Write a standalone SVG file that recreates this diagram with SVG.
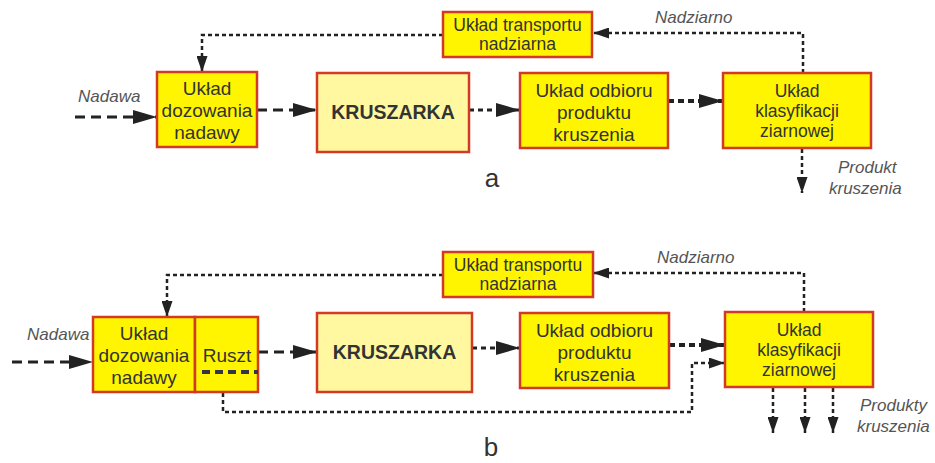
<svg xmlns="http://www.w3.org/2000/svg" width="935" height="463" viewBox="0 0 935 463">
<defs>
<style>
.box{fill:#FFF500;stroke:#D33A26;stroke-width:2.5}
.kr{fill:#FFF8A0;stroke:#D33A26;stroke-width:2.5}
.t{font-family:"Liberation Sans",Arial,sans-serif;font-size:19px;fill:#333;text-anchor:middle}
.ts{font-family:"Liberation Sans",Arial,sans-serif;font-size:17.5px;fill:#333;text-anchor:middle}
.tb{font-family:"Liberation Sans",Arial,sans-serif;font-size:19.5px;font-weight:bold;fill:#333;text-anchor:middle}
.lbl{font-family:"Liberation Sans",Arial,sans-serif;font-size:17px;font-style:italic;fill:#555}
.big{font-family:"Liberation Sans",Arial,sans-serif;font-size:26px;fill:#333;text-anchor:middle}
.c{fill:none;stroke:#222}
.long{stroke-width:3;stroke-dasharray:10 6}
.dot{stroke-width:2.5;stroke-dasharray:4 3}
.med{stroke-width:3;stroke-dasharray:5 4}
.thick{stroke-width:4;stroke-dasharray:6 4}
</style>
<marker id="ab" viewBox="0 0 24 14" refX="24" refY="7" markerWidth="24" markerHeight="14" markerUnits="userSpaceOnUse" orient="auto"><path d="M0,0 L24,7 L0,14 z" fill="#222"/></marker>
<marker id="as" viewBox="0 0 16 11" refX="16" refY="5.5" markerWidth="16" markerHeight="11" markerUnits="userSpaceOnUse" orient="auto"><path d="M0,0 L16,5.5 L0,11 z" fill="#222"/></marker>
</defs>
<rect width="935" height="463" fill="#fff"/>

<g id="connectors">
<!-- a -->
<path class="c dot" d="M803,73 V33 H593" marker-end="url(#as)"/>
<path class="c dot" d="M443,35 H202 V72" marker-end="url(#as)"/>
<path class="c long" d="M75,117 H157" marker-end="url(#ab)"/>
<path class="c long" d="M257,110 H317" marker-end="url(#ab)"/>
<path class="c med" d="M469,110 H520" marker-end="url(#ab)"/>
<path class="c thick" d="M668,101 H723" marker-end="url(#ab)"/>
<path class="c dot" d="M802,149 V193" marker-end="url(#as)"/>
<!-- b -->
<path class="c dot" d="M804,312 V273 H593" marker-end="url(#as)"/>
<path class="c dot" d="M443,275 H167 V317" marker-end="url(#as)"/>
<path class="c long" d="M12,362 H93" marker-end="url(#ab)"/>
<path class="c long" d="M258,352 H317" marker-end="url(#ab)"/>
<path class="c med" d="M472,348 H520" marker-end="url(#ab)"/>
<path class="c thick" d="M669,345 H725" marker-end="url(#ab)"/>
<path class="c dot" d="M223,393 V412 H692 V363 H725" marker-end="url(#as)"/>
<path class="c dot" d="M773,388 V433" marker-end="url(#as)"/>
<path class="c dot" d="M805,388 V433" marker-end="url(#as)"/>
<path class="c dot" d="M833,388 V433" marker-end="url(#as)"/>
</g>

<g id="a-transport">
<rect class="box" x="443" y="12" width="149" height="45"/>
<text class="ts" x="517.5" y="31">Układ transportu</text>
<text class="ts" x="517.5" y="50">nadziarna</text>
</g>
<g id="a-dozowanie">
<rect class="box" x="157" y="72" width="100" height="75"/>
<text class="t" x="207" y="95">Układ</text>
<text class="t" x="207" y="117">dozowania</text>
<text class="t" x="207" y="139">nadawy</text>
</g>
<g id="a-kruszarka">
<rect class="kr" x="317" y="73" width="152" height="79"/>
<text class="tb" x="393" y="119">KRUSZARKA</text>
</g>
<g id="a-odbior">
<rect class="box" x="520" y="73" width="148" height="75"/>
<text class="t" x="594" y="97">Układ odbioru</text>
<text class="t" x="594" y="119">produktu</text>
<text class="t" x="594" y="141">kruszenia</text>
</g>
<g id="a-klasyfikacja">
<rect class="box" x="723" y="73" width="148" height="75"/>
<text class="ts" x="797" y="97">Układ</text>
<text class="ts" x="797" y="117">klasyfikacji</text>
<text class="ts" x="797" y="137">ziarnowej</text>
</g>
<g id="a-labels">
<text class="lbl" x="78" y="102">Nadawa</text>
<text class="lbl" x="655" y="23">Nadziarno</text>
<text class="lbl" x="838" y="173">Produkt</text>
<text class="lbl" x="829" y="194">kruszenia</text>
<text class="big" x="492" y="187">a</text>
</g>

<g id="b-transport">
<rect class="box" x="443" y="252" width="150" height="45"/>
<text class="ts" x="518" y="271">Układ transportu</text>
<text class="ts" x="518" y="290">nadziarna</text>
</g>
<g id="b-dozowanie">
<rect class="box" x="93" y="317" width="102" height="75"/>
<text class="t" x="144" y="340">Układ</text>
<text class="t" x="144" y="362">dozowania</text>
<text class="t" x="144" y="384">nadawy</text>
</g>
<g id="b-ruszt">
<rect class="box" x="195" y="317" width="63" height="75"/>
<text class="t" x="227" y="362">Ruszt</text>
<line x1="202" y1="372" x2="258" y2="372" stroke="#33334a" stroke-width="4" stroke-dasharray="8 5"/>
</g>
<g id="b-kruszarka">
<rect class="kr" x="317" y="313" width="155" height="79"/>
<text class="tb" x="394.5" y="359">KRUSZARKA</text>
</g>
<g id="b-odbior">
<rect class="box" x="520" y="313" width="149" height="75"/>
<text class="t" x="594.5" y="337">Układ odbioru</text>
<text class="t" x="594.5" y="359">produktu</text>
<text class="t" x="594.5" y="381">kruszenia</text>
</g>
<g id="b-klasyfikacja">
<rect class="box" x="725" y="312" width="148" height="75"/>
<text class="ts" x="799" y="336">Układ</text>
<text class="ts" x="799" y="356">klasyfikacji</text>
<text class="ts" x="799" y="376">ziarnowej</text>
</g>
<g id="b-labels">
<text class="lbl" x="27" y="340">Nadawa</text>
<text class="lbl" x="657" y="263">Nadziarno</text>
<text class="lbl" x="860" y="411">Produkty</text>
<text class="lbl" x="857" y="432">kruszenia</text>
<text class="big" x="491" y="456">b</text>
</g>
</svg>
